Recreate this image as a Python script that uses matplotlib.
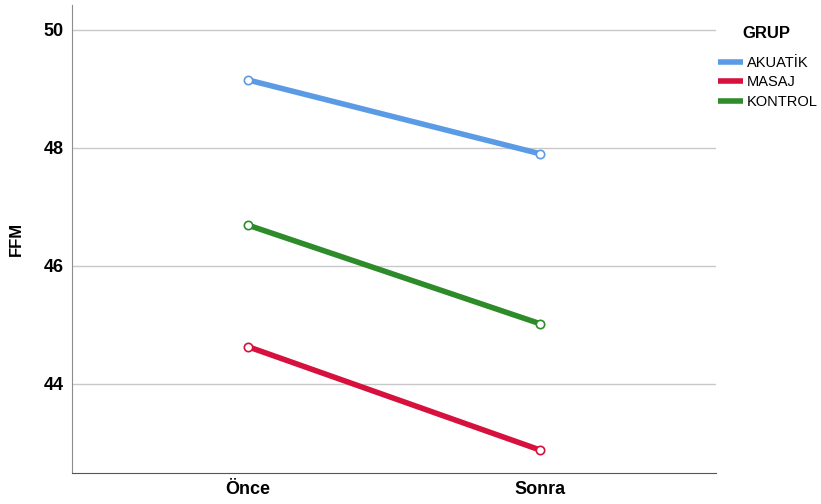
import matplotlib
matplotlib.use("Agg")
import matplotlib.pyplot as plt

plt.rcParams['font.family'] = ['Liberation Sans', 'DejaVu Sans']

categories = ["Önce", "Sonra"]
groups = ["AKUATİK", "MASAJ", "KONTROL"]
akuatik = [49.15, 47.90]
masaj = [44.63, 42.88]
kontrol = [46.69, 45.02]
series = [akuatik, masaj, kontrol]
colors = ["#5b9be6", "#d6113d", "#2e8b2a"]
yticks = [44, 46, 48, 50]

fig = plt.figure(figsize=(8.21, 5.04), dpi=100)
ax = fig.add_axes([72/821, 31/504, (716-72)/821, (473-5)/504])

x = list(range(len(categories)))
for name, vals, c in zip(groups, series, colors):
    ax.plot(x, vals, color=c, lw=4, solid_capstyle='butt', label=name, zorder=3)
    ax.plot(x, vals, ls='none', marker='o', ms=6, mfc='white', mec=c, mew=1.2, zorder=4)

ax.set_xlim(-0.603, 1.603)
ax.set_ylim(42.49, 50.42)
ax.set_xticks(x)
ax.set_xticklabels(categories, fontsize=13, fontweight='bold')
ax.set_yticks(yticks)
ax.set_yticklabels([str(v) for v in yticks], fontsize=13, fontweight='bold')
ax.tick_params(length=0, pad=6)
ax.grid(axis='y', color='#c8c8c8', lw=1)
ax.set_axisbelow(True)
for s in ['top', 'right']:
    ax.spines[s].set_visible(False)
ax.spines['left'].set_color('#8c8c8c')
ax.spines['bottom'].set_color('#555555')
ax.set_ylabel("FFM", fontsize=12, fontweight='bold', labelpad=14)

fig.text(766/821, 1-33/504, "GRUP", fontsize=12, fontweight='bold', ha='center', va='center')
leg = ax.legend(loc='upper left', bbox_to_anchor=(712/821, 1-50/504), bbox_transform=fig.transFigure,
                frameon=False, fontsize=10.5, handlelength=1.75, handletextpad=0.25,
                labelspacing=0.37, borderaxespad=0)

fig.savefig("out.png", dpi=100)
